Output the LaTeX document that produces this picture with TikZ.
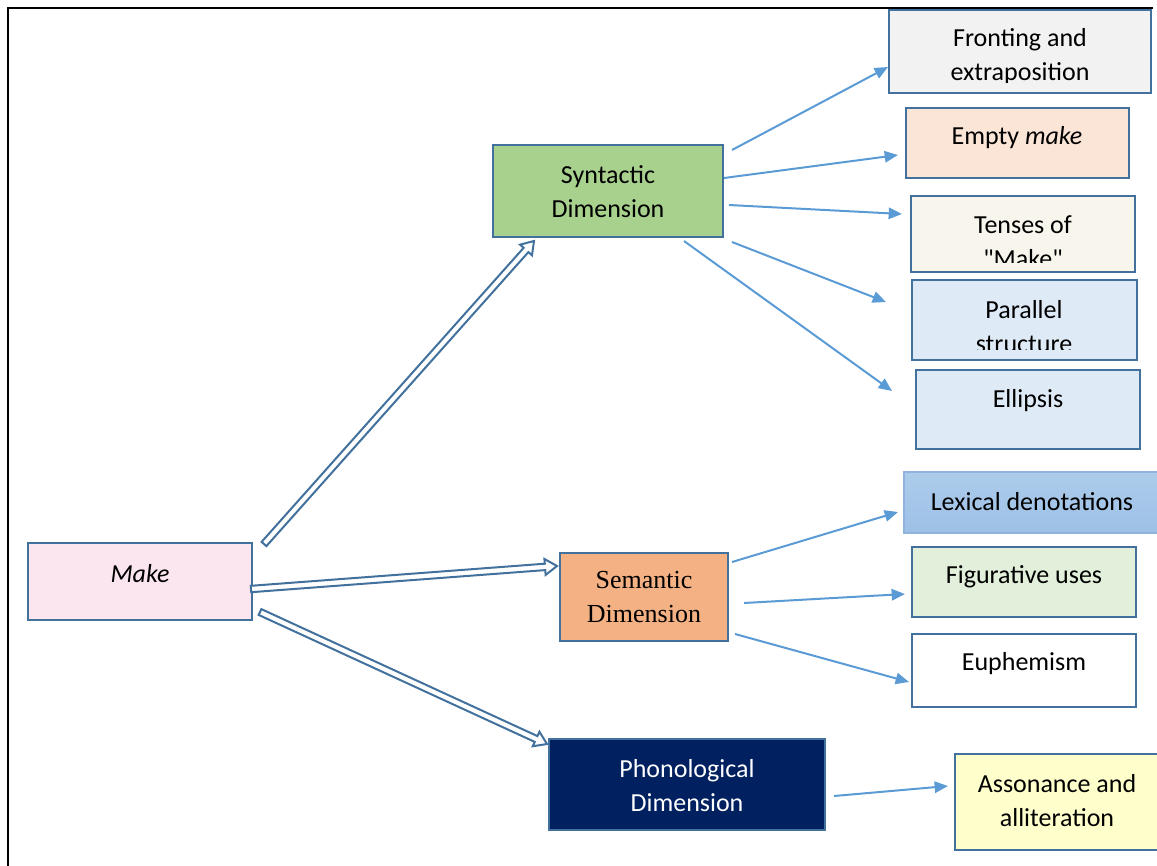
\documentclass[tikz,border=0pt]{standalone}
\usepackage{fontspec}
\setmainfont{Carlito}
\newfontfamily\noligs{Carlito}[Ligatures=TeXOff]
\newfontfamily\serifrm{Liberation Serif}
\usetikzlibrary{arrows.meta,calc}
\definecolor{bord}{HTML}{41719C}
\definecolor{arrc}{HTML}{5B9BD5}
\definecolor{dblc}{HTML}{41719C}
\definecolor{cmake}{HTML}{FBE5EE}
\definecolor{csyn}{HTML}{A9D18E}
\definecolor{csem}{HTML}{F4B183}
\definecolor{cpho}{HTML}{002060}
\definecolor{cfro}{HTML}{F2F2F2}
\definecolor{cemp}{HTML}{FBE5D6}
\definecolor{cten}{HTML}{F8F6EC}
\definecolor{cpar}{HTML}{DEEBF7}
\definecolor{cfig}{HTML}{E2EFDA}
\definecolor{cass}{HTML}{FFFFCC}
\definecolor{clexa}{HTML}{ADCCEB}
\definecolor{clexb}{HTML}{9DC0E6}
\definecolor{clexd}{HTML}{8FB4E0}
\newcommand\mybox[6]{\node[box,fill=#6,minimum width={(#4-#2)*0.75pt},minimum height={(#5-#3)*0.75pt}] (#1) at ({(#2+#4)/2},{(#3+#5)/2}) {};}
\newcommand\hollow[2]{%
  \coordinate (hs) at (#1); \coordinate (he) at (#2);
  \coordinate (hb) at ($(he)!9pt!(hs)$);
  \draw[hol] ($(hs)!2.4pt!90:(he)$) -- ($(hb)!2.4pt!-90:(hs)$) -- ($(hb)!6pt!-90:(hs)$) -- (he)
    -- ($(hb)!6pt!90:(hs)$) -- ($(hb)!2.4pt!90:(hs)$) -- ($(hs)!2.4pt!-90:(he)$) -- cycle;}
\begin{document}
\begin{tikzpicture}[x=0.75pt,y=-0.75pt,
  box/.style={draw=bord, line width=1.5pt, rectangle, inner sep=0pt},
  txt/.style={align=center, font=\fontsize{19.5}{25.5}\selectfont, inner sep=0pt},
  arr/.style={draw=arrc, line width=1.5pt, -{Triangle[length=10pt,width=8.5pt]}},
  hol/.style={draw=dblc, line width=1.5pt, fill=white, line join=miter}]
\useasboundingbox (0,0) rectangle (1157,865);
\draw[line width=2pt] (8,866) -- (8,8) -- (1153,8);

% boxes
\mybox{make}{28}{543}{252}{620}{cmake}
\mybox{syn}{493}{145}{723}{237}{csyn}
\mybox{sem}{560}{553}{728}{641}{csem}
\mybox{pho}{549}{739}{825}{830}{cpho}
\mybox{fro}{889}{10}{1151}{93}{cfro}
\mybox{emp}{906}{108}{1129}{178}{cemp}
\mybox{ten}{911}{196}{1135}{272}{cten}
\mybox{par}{912}{280}{1137}{360}{cpar}
\mybox{ell}{916}{370}{1140}{449}{cpar}
\node[box,draw=clexd,top color=clexa,bottom color=clexb,minimum width={256*0.75pt},minimum height={61*0.75pt}] (lex) at (1032,502.5) {};
\mybox{fig}{912}{547}{1136}{617}{cfig}
\mybox{eup}{912}{634}{1136}{707}{white}
\mybox{ass}{955}{754}{1159}{850}{cass}

% texts
\node[txt,font=\fontsize{19.5}{25.5}\selectfont\itshape] (make-t) at (140,574) {Make};
\node[txt] (syn-t) at (608,191.5) {Syntactic\\Dimension};
\node[txt,font=\fontsize{19.5}{25.5}\selectfont\serifrm] (sem-t) at (644,597.5) {Semantic\\Dimension};
\node[txt,text=white] (pho-t) at (687,785.5) {Phonological\\Dimension};
\begin{scope}
\clip (890,12) rectangle (1150,82);
\node[txt] (fro-t) at (1020,57) {Fronting and\\extraposition};
\end{scope}
\node[txt] (emp-t) at (1017,138) {Empty \textit{make}};
\begin{scope}
\clip (912,198) rectangle (1134,262);
\node[txt] (ten-t) at (1023,242) {Tenses of\\{\noligs"Make"}};
\end{scope}
\begin{scope}
\clip (913,282) rectangle (1136,349.5);
\node[txt] (par-t) at (1024,327) {Parallel\\structure};
\end{scope}
\node[txt] (ell-t) at (1028,401) {Ellipsis};
\node[txt] (lex-t) at (1032,502) {Lexical denotations};
\node[txt] (fig-t) at (1024,577) {Figurative uses};
\node[txt] (eup-t) at (1024,664) {Euphemism};
\node[txt] (ass-t) at (1057,801) {Assonance and\\alliteration};

% single arrows
\draw[arr] ([shift={(8,-41)}]syn.east) -- ([shift={(0,15.5)}]fro.west);
\draw[arr] ([shift={(0,-13)}]syn.east) -- ([shift={(-7,12)}]emp.west);
\draw[arr] ([shift={(5,14)}]syn.east) -- ([shift={(-8,-20)}]ten.west);
\draw[arr] ([shift={(8,51)}]syn.east) -- ([shift={(-25,-18)}]par.west);
\draw[arr] ([shift={(76,3)}]syn.south) -- ([shift={(-23,-18.5)}]ell.west);
\draw[arr] ([shift={(3,-35)}]sem.east) -- ([shift={(-5,9.5)}]lex.west);
\draw[arr] ([shift={(15,6)}]sem.east) -- ([shift={(-6,12)}]fig.west);
\draw[arr] ([shift={(6,37)}]sem.east) -- ([shift={(-2,11.5)}]eup.west);
\draw[arr] ([shift={(8,11.5)}]pho.east) -- ([shift={(-6,-16)}]ass.west);

% hollow block arrows
\hollow{[shift={(11,2)}]make.north east}{[shift={(42,3)}]syn.south west}
\hollow{[shift={(-2,7.5)}]make.east}{[shift={(-2,-31)}]sem.west}
\hollow{[shift={(7,30.5)}]make.east}{[shift={(-1,6)}]pho.north west}
\end{tikzpicture}
\end{document}
